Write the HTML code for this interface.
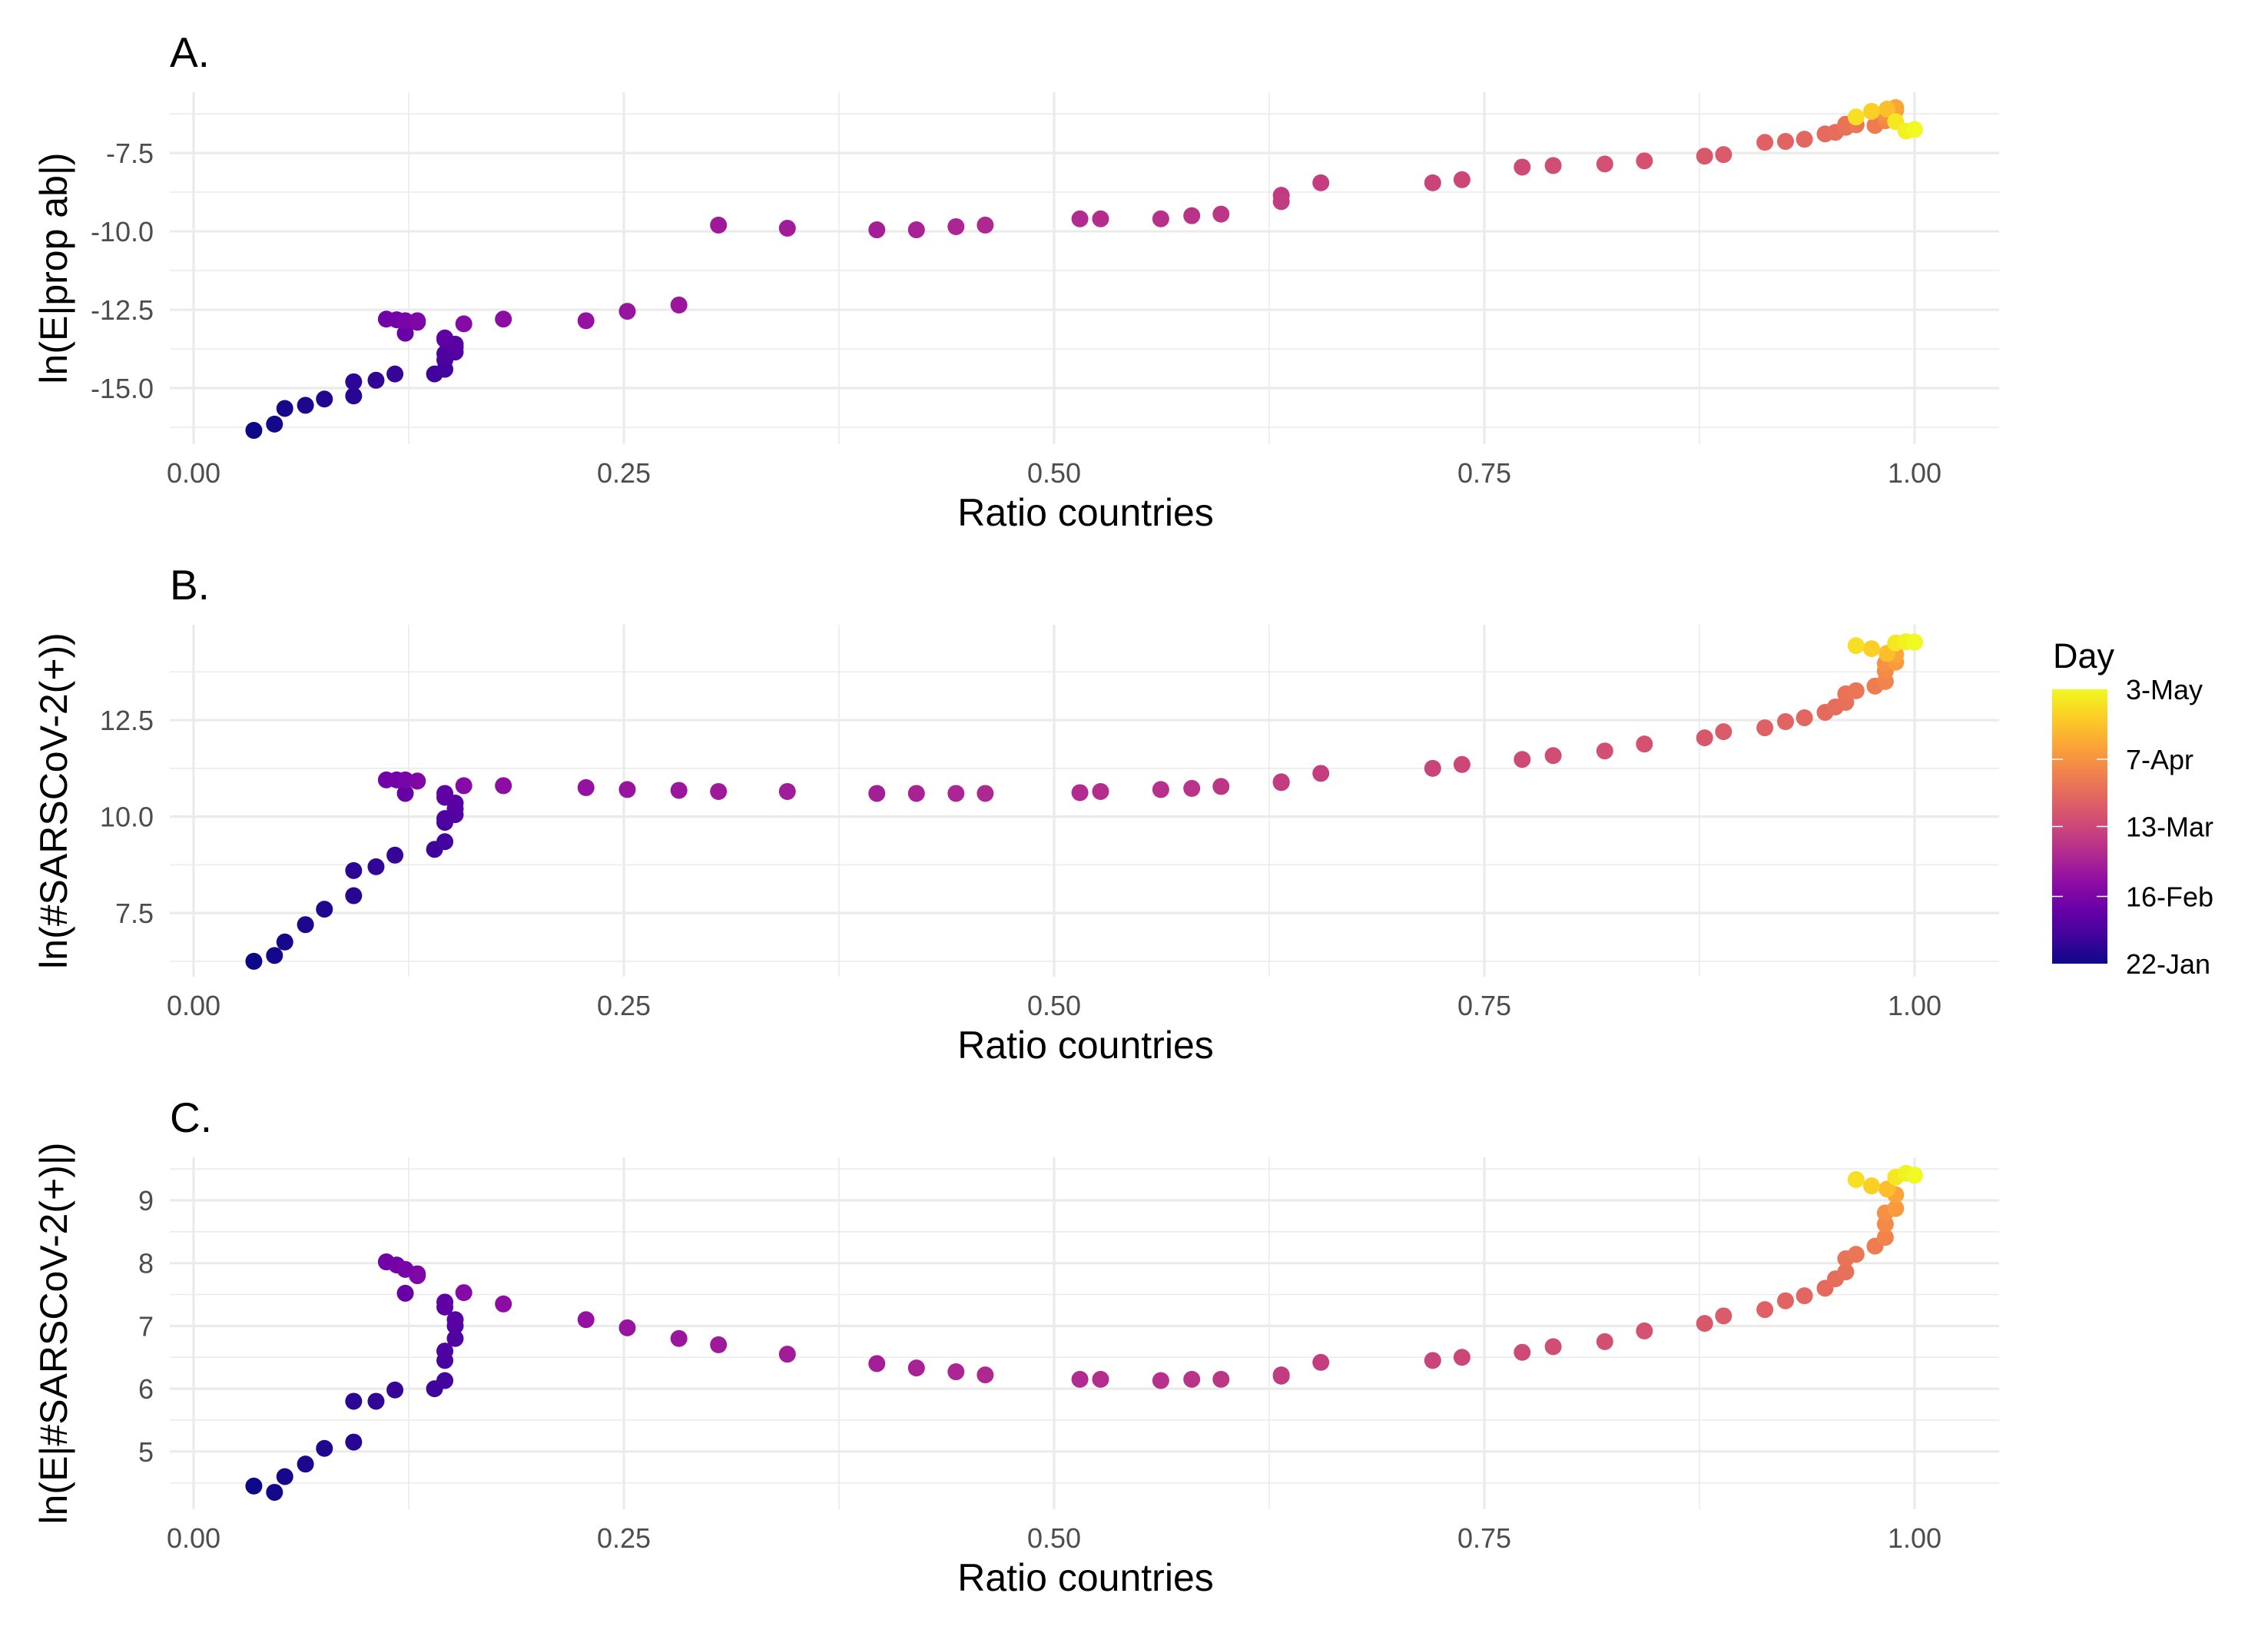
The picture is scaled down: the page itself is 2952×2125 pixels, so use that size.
<!DOCTYPE html>
<html><head><meta charset="utf-8"><title>Ratio countries panels</title>
<style>
html,body{margin:0;padding:0;background:#fff;}
svg{display:block;font-family:"Liberation Sans",Arial,sans-serif;}
</style></head>
<body>
<svg id="chart" width="2952" height="2125" viewBox="0 0 2952 2125" xmlns="http://www.w3.org/2000/svg">
<defs>
<linearGradient id="plasma" x1="0" y1="1" x2="0" y2="0">
<stop offset="0" stop-color="#0d0887"/><stop offset="0.1" stop-color="#41049d"/><stop offset="0.2" stop-color="#6a00a8"/><stop offset="0.3" stop-color="#8f0da4"/><stop offset="0.4" stop-color="#b12a90"/><stop offset="0.5" stop-color="#cc4778"/><stop offset="0.6" stop-color="#e16462"/><stop offset="0.7" stop-color="#f2844b"/><stop offset="0.8" stop-color="#fca636"/><stop offset="0.9" stop-color="#fcce25"/><stop offset="1" stop-color="#f0f921"/>
</linearGradient>
</defs>
<g id="panels"></g>
<g id="legend">
<text x="2672" y="869" font-size="45" fill="#000">Day</text>
<rect x="2671" y="897" width="72" height="357" fill="url(#plasma)"/>
<g id="legend-ticks"></g>
</g>
</svg>
<script>
// ---- data (one entry per day observed) ----
const ratio = [0.035,0.047,0.053,0.065,0.076,0.093,0.093,0.106,0.117,0.140,0.146,0.146,0.146,0.152,0.152,0.152,0.146,0.146,0.123,0.112,0.118,0.123,0.130,0.130,0.157,0.180,0.228,0.252,0.282,0.305,0.345,0.397,0.420,0.443,0.460,0.515,0.527,0.562,0.580,0.597,0.632,0.632,0.655,0.720,0.737,0.772,0.790,0.820,0.843,0.878,0.889,0.913,0.925,0.936,0.948,0.954,0.960,0.960,0.966,0.977,0.983,0.983,0.983,0.989,0.989,0.984,0.975,0.966,0.989,0.995,1.000];
const day = [0,1,2,3,4,5,6,7,8,10,11,12,13,14,15,16,17,18,20,22,23,24,25,26,28,30,32,33,34,35,36,37,38,39,40,41,42,43,44,45,46,47,48,50,51,52,53,54,55,57,58,60,61,62,63,64,65,66,67,69,71,73,75,78,81,88,92,96,98,100,102];
const valA = [-16.35,-16.15,-15.65,-15.55,-15.35,-15.25,-14.8,-14.75,-14.55,-14.55,-14.4,-14.1,-13.9,-13.85,-13.7,-13.6,-13.45,-13.4,-13.25,-12.8,-12.82,-12.85,-12.9,-12.85,-12.95,-12.8,-12.85,-12.55,-12.35,-9.8,-9.9,-9.95,-9.95,-9.85,-9.8,-9.6,-9.6,-9.6,-9.5,-9.45,-8.85,-9.05,-8.45,-8.45,-8.35,-7.95,-7.9,-7.85,-7.75,-7.6,-7.55,-7.16,-7.13,-7.06,-6.89,-6.84,-6.68,-6.58,-6.6,-6.62,-6.47,-6.35,-6.23,-6.13,-6.05,-6.1,-6.17,-6.35,-6.5,-6.8,-6.75];
const valB = [6.25,6.4,6.75,7.2,7.6,7.95,8.6,8.7,9.0,9.15,9.35,9.85,9.95,10.05,10.2,10.35,10.5,10.6,10.6,10.95,10.95,10.95,10.92,10.92,10.8,10.8,10.75,10.7,10.68,10.65,10.65,10.6,10.6,10.6,10.6,10.62,10.65,10.7,10.73,10.78,10.9,10.88,11.12,11.25,11.35,11.48,11.58,11.7,11.88,12.04,12.2,12.3,12.46,12.56,12.7,12.84,12.96,13.18,13.26,13.38,13.5,13.77,13.97,14.0,14.2,14.23,14.35,14.43,14.5,14.53,14.52];
const valC = [4.45,4.35,4.6,4.8,5.05,5.15,5.8,5.8,5.98,6.0,6.13,6.45,6.6,6.8,7.0,7.1,7.3,7.38,7.52,8.02,7.97,7.9,7.83,7.8,7.53,7.35,7.1,6.97,6.8,6.7,6.55,6.4,6.33,6.27,6.22,6.15,6.15,6.13,6.15,6.15,6.2,6.22,6.42,6.45,6.5,6.58,6.67,6.75,6.92,7.04,7.16,7.26,7.4,7.48,7.6,7.75,7.86,8.07,8.14,8.27,8.41,8.62,8.8,8.87,9.09,9.18,9.23,9.33,9.37,9.43,9.4];
const xTicks = [0,0.25,0.5,0.75,1.0];
const xTickLabels = ["0.00","0.25","0.50","0.75","1.00"];
const ticksA = [-15,-12.5,-10,-7.5];
const ticksALabels = ["-15.0","-12.5","-10.0","-7.5"];
const ticksB = [7.5,10,12.5];
const ticksBLabels = ["7.5","10.0","12.5"];
const ticksC = [5,6,7,8,9];
const ticksCLabels = ["5","6","7","8","9"];
const legendDays = [0,25,51,76,102];
const legendLabels = ["22-Jan","16-Feb","13-Mar","7-Apr","3-May"];

const NS = "http://www.w3.org/2000/svg";
const X0 = 221, X1 = 2602, PX0 = 252, PXU = 2240;
const xScale = v => PX0 + v * PXU;
const dayMax = 102;
const stops = ["#0d0887","#41049d","#6a00a8","#8f0da4","#b12a90","#cc4778","#e16462","#f2844b","#fca636","#fcce25","#f0f921"];
function hex(h){return [parseInt(h.slice(1,3),16),parseInt(h.slice(3,5),16),parseInt(h.slice(5,7),16)];}
function plasma(t){
  t=Math.max(0,Math.min(1,t)); const p=t*10; const i=Math.min(9,Math.floor(p)); const f=p-i;
  const a=hex(stops[i]), b=hex(stops[i+1]);
  return "rgb("+a.map((c,k)=>Math.round(c+(b[k]-c)*f)).join(",")+")";
}
function mk(tag, attrs, parent){
  const e=document.createElementNS(NS,tag);
  for(const k in attrs) e.setAttribute(k,attrs[k]);
  parent.appendChild(e); return e;
}
const panelsG = document.getElementById("panels");
const panels = [
  {key:"a", title:"A.", ylab:"ln(E|prop ab|)", top:120, bottom:578, ymin:-16.79, ymax:-5.56, vals:valA, ticks:ticksA, labels:ticksALabels, minor:[-16.25,-13.75,-11.25,-8.75,-6.25]},
  {key:"b", title:"B.", ylab:"ln(#SARSCoV-2(+))", top:813, bottom:1271, ymin:5.85, ymax:14.97, vals:valB, ticks:ticksB, labels:ticksBLabels, minor:[6.25,8.75,11.25,13.75]},
  {key:"c", title:"C.", ylab:"ln(E|#SARSCoV-2(+)|)", top:1506, bottom:1964, ymin:4.08, ymax:9.685, vals:valC, ticks:ticksC, labels:ticksCLabels, minor:[4.5,5.5,6.5,7.5,8.5,9.5]}
];
const xMinor = [0.125,0.375,0.625,0.875];
panels.forEach(p=>{
  const g = mk("g",{},panelsG);
  
  
  const yScale = v => p.bottom - (v - p.ymin)/(p.ymax - p.ymin)*(p.bottom - p.top);
  const grid = mk("g",{},g);
  
  
  p.minor.forEach(v=>{ mk("line",{x1:X0,x2:X1,y1:yScale(v),y2:yScale(v),stroke:"#ebebeb","stroke-width":1.6},grid); });
  xMinor.forEach(v=>{ mk("line",{x1:xScale(v),x2:xScale(v),y1:p.top,y2:p.bottom,stroke:"#ebebeb","stroke-width":1.6},grid); });
  p.ticks.forEach(v=>{ mk("line",{x1:X0,x2:X1,y1:yScale(v),y2:yScale(v),stroke:"#ebebeb","stroke-width":3.2},grid); });
  xTicks.forEach(v=>{ mk("line",{x1:xScale(v),x2:xScale(v),y1:p.top,y2:p.bottom,stroke:"#ebebeb","stroke-width":3.2},grid); });
  p.ticks.forEach((v,i)=>{
    const t = mk("text",{x:200,y:yScale(v)+13,"text-anchor":"end","font-size":36,fill:"#4d4d4d"},g);
    t.textContent = p.labels[i];
    
    
  });
  xTicks.forEach((v,i)=>{
    const t = mk("text",{x:xScale(v),y:p.bottom+50,"text-anchor":"middle","font-size":36,fill:"#4d4d4d"},g);
    t.textContent = xTickLabels[i];
    
    
  });
  const xt = mk("text",{x:1413,y:p.bottom+106,"text-anchor":"middle","font-size":50,fill:"#000"},g);
  xt.textContent = "Ratio countries";
  
  
  const cy = (p.top+p.bottom)/2;
  const yt = mk("text",{x:0,y:0,"text-anchor":"middle","font-size":50,fill:"#000",transform:"translate(87,"+cy+") rotate(-90)"},g);
  yt.textContent = p.ylab;
  
  
  const tt = mk("text",{x:221,y:p.top-33,"font-size":55,fill:"#000"},g);
  tt.textContent = p.title;
  
  
  const pts = mk("g",{},g);
  
  
  ratio.forEach((r,i)=>{
    const c = mk("circle",{cx:xScale(r),cy:yScale(p.vals[i]),r:11,fill:plasma(day[i]/dayMax)},pts);
    
    
  });
});
const lg = document.getElementById("legend-ticks");
const LT = 897, LB = 1254;
const ly = d => LB - d/dayMax*(LB-LT);
legendDays.forEach((d,i)=>{
  if(i>0 && i<legendDays.length-1){
    mk("line",{x1:2671,x2:2685,y1:ly(d),y2:ly(d),stroke:"#fff","stroke-width":1.5},lg);
    mk("line",{x1:2729,x2:2743,y1:ly(d),y2:ly(d),stroke:"#fff","stroke-width":1.5},lg);
  }
  const t = mk("text",{x:2767,y:ly(d)+13,"font-size":36,fill:"#000"},lg);
  t.textContent = legendLabels[i];
  
  
});
</script>
</body></html>
